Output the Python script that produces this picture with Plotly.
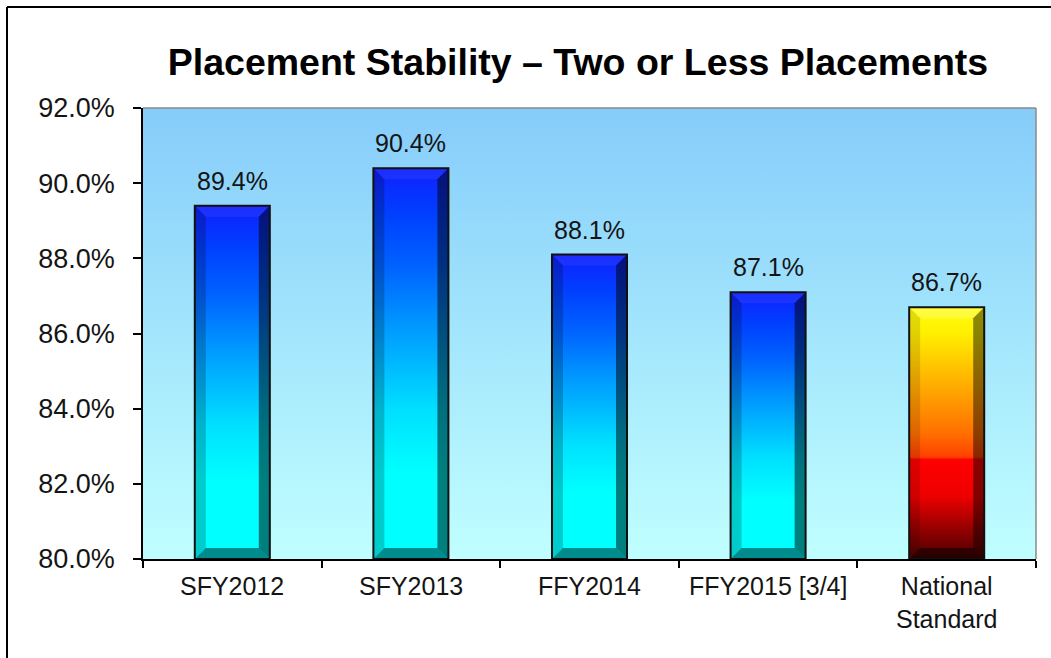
import plotly.graph_objects as go

# ---------------- data ----------------
categories = ["SFY2012", "SFY2013", "FFY2014", "FFY2015 [3/4]", "National<br>Standard"]
values = [89.4, 90.4, 88.1, 87.1, 86.7]
value_labels = ["89.4%", "90.4%", "88.1%", "87.1%", "86.7%"]
bar_styles = ["blue", "blue", "blue", "blue", "fire"]
y_tickvals = [80, 82, 84, 86, 88, 90, 92]
y_ticktext = ["80.0%", "82.0%", "84.0%", "86.0%", "88.0%", "90.0%", "92.0%"]
title_text = "Placement Stability \u2013 Two or Less Placements"

# ---------------- styling / geometry ----------------
W, H = 1051, 658
ML, MR, MT, MB = 143, 15, 108, 99
Y_MIN, Y_MAX = 80, 92
X_MIN, X_MAX = -0.5, 4.5
PX_PER_X = (W - ML - MR) / (X_MAX - X_MIN)
PX_PER_Y = (H - MT - MB) / (Y_MAX - Y_MIN)
HALF = 0.21                  # half bar width (category units)
BEV_X = 11 / PX_PER_X        # bevel width in data units
BEV_Y = 11 / PX_PER_Y

FONT = "Liberation Sans, Arial, sans-serif"

SCALES = {
    "blue": [[0.0, "#00FFFF"], [0.22, "#00FFFF"], [0.38, "#00E0FF"],
             [0.5, "#00B8FF"], [0.62, "#0090FF"], [0.75, "#0062FF"],
             [0.88, "#0040FF"], [1.0, "#1020FF"]],
    "fire": [[0.0, "#4A0000"], [0.12, "#950000"], [0.25, "#EE0000"],
             [0.395, "#FF0000"], [0.405, "#FF4000"], [0.5, "#FF7000"],
             [0.6, "#FF9000"], [0.7, "#FFB000"], [0.8, "#FFD000"],
             [0.9, "#FFF000"], [1.0, "#FFFF10"]],
}
BEVEL_ALPHA = {
    "blue": dict(top=("255,255,255", 0.06), left=("0,0,0", 0.2),
                 right=("0,0,0", 0.5), bottom=("0,0,0", 0.45)),
    "fire": dict(top=("255,255,255", 0.2), left=("0,0,0", 0.12),
                 right=("0,0,0", 0.45), bottom=("0,0,0", 0.5)),
}

fig = go.Figure()

# plot-area gradient background
fig.add_trace(go.Scatter(
    x=[X_MIN, X_MAX, X_MAX, X_MIN, X_MIN],
    y=[Y_MIN, Y_MIN, Y_MAX, Y_MAX, Y_MIN],
    mode="none", fill="toself",
    fillgradient=dict(type="vertical", colorscale=[[0, "#C0FFFF"], [1, "#86CCFA"]]),
    hoverinfo="skip", showlegend=False))

for i, (cat, v, style) in enumerate(zip(categories, values, bar_styles)):
    x0, x1 = i - HALF, i + HALF
    y0, y1 = Y_MIN, v
    # body with vertical gradient
    fig.add_trace(go.Scatter(
        x=[x0, x1, x1, x0, x0], y=[y0, y0, y1, y1, y0],
        mode="none", fill="toself",
        fillgradient=dict(type="vertical", colorscale=SCALES[style]),
        name=cat.replace("<br>", " "),
        hoveron="fills", hoverinfo="name", showlegend=False))
    bx, by = BEV_X, BEV_Y
    polys = {
        "top": ([x0, x1, x1 - bx, x0 + bx, x0], [y1, y1, y1 - by, y1 - by, y1]),
        "left": ([x0, x0, x0 + bx, x0 + bx, x0], [y0, y1, y1 - by, y0 + by, y0]),
        "right": ([x1, x1, x1 - bx, x1 - bx, x1], [y0, y1, y1 - by, y0 + by, y0]),
        "bottom": ([x0, x1, x1 - bx, x0 + bx, x0], [y0, y0, y0 + by, y0 + by, y0]),
    }
    for side, (px, py) in polys.items():
        rgb, a = BEVEL_ALPHA[style][side]
        fig.add_trace(go.Scatter(
            x=px, y=py, mode="none", fill="toself",
            fillcolor=f"rgba({rgb},{a})", hoverinfo="skip", showlegend=False))
    # outline
    fig.add_trace(go.Scatter(
        x=[x0, x1, x1, x0, x0], y=[y0, y0, y1, y1, y0],
        mode="lines", line=dict(color="#111111", width=2),
        hoverinfo="skip", showlegend=False))

annotations = []
for i, (v, lab) in enumerate(zip(values, value_labels)):
    annotations.append(dict(
        x=i, y=v, xref="x", yref="y", text=lab, showarrow=False,
        yanchor="bottom", yshift=9,
        font=dict(family=FONT, size=25, color="#141414")))
for i, cat in enumerate(categories):
    annotations.append(dict(
        x=i, y=0, xref="x", yref="paper", text=cat, showarrow=False,
        yanchor="top", yshift=-11,
        font=dict(family=FONT, size=25, color="#141414")))

# pixel -> paper helpers for decorative frame
def xp(px):
    return (px - ML) / (W - ML - MR)

def yp(py):
    return (H - MB - py) / (H - MT - MB)

shapes = [
    # gray plot-area border (top & right)
    dict(type="line", xref="paper", yref="paper", x0=0, x1=1, y0=1, y1=1,
         line=dict(color="#8a8a8a", width=1.5)),
    dict(type="line", xref="paper", yref="paper", x0=1, x1=1, y0=0, y1=1,
         line=dict(color="#8a8a8a", width=1.5)),
    # outer chart frame (left & top)
    dict(type="line", xref="paper", yref="paper", x0=xp(7), x1=xp(7),
         y0=yp(7), y1=yp(H + 5), line=dict(color="black", width=2)),
    dict(type="line", xref="paper", yref="paper", x0=xp(7), x1=xp(W + 5),
         y0=yp(7), y1=yp(7), line=dict(color="black", width=2)),
]

fig.update_layout(
    width=W, height=H,
    margin=dict(l=ML, r=MR, t=MT, b=MB),
    paper_bgcolor="white", plot_bgcolor="white",
    showlegend=False,
    title=dict(text=f"<b>{title_text}</b>", x=578 / W, xanchor="center",
               y=1 - 62 / H, yanchor="middle",
               font=dict(family=FONT, size=37.5, color="black")),
    xaxis=dict(range=[X_MIN, X_MAX], tickvals=[k - 0.5 for k in range(len(categories) + 1)],
               showticklabels=False, ticks="outside", ticklen=7, tickwidth=1.5,
               tickcolor="black", showline=True, linecolor="black", linewidth=1.5,
               showgrid=False, zeroline=False, fixedrange=True),
    yaxis=dict(range=[Y_MIN, Y_MAX], tickvals=y_tickvals, ticktext=y_ticktext,
               ticks="outside", ticklen=8, tickwidth=1.5, tickcolor="black",
               showline=True, linecolor="black", linewidth=1.5,
               showgrid=False, zeroline=False, ticklabelstandoff=13,
               tickfont=dict(family=FONT, size=27, color="#141414"), fixedrange=True),
    annotations=annotations,
    shapes=shapes,
    font=dict(family=FONT),
)

fig.write_html(
    "out.html",
    config={"displayModeBar": False},
    post_script="document.body.style.margin='0';document.body.style.padding='0';",
)
